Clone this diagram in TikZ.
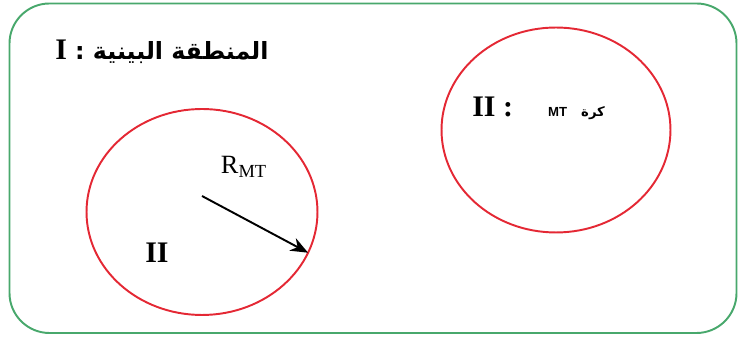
\documentclass[tikz,border=0pt]{standalone}
\usepackage{fontspec}
\setmainfont{Liberation Serif}
\setsansfont{Liberation Sans}
\newfontfamily\arabicfont[Script=Arabic]{DejaVu Sans}
\TeXXeTstate=1
\usetikzlibrary{positioning, arrows.meta, shapes.geometric}
\definecolor{boxgreen}{RGB}{72,168,108}
\definecolor{zonered}{RGB}{228,40,52}

\begin{document}
\begin{tikzpicture}[x=0.02cm, y=-0.02cm, every node/.style={inner sep=0pt}]
  \tikzset{
    frame/.style={draw=boxgreen, line width=1.1pt, rounded corners=0.8cm},
    zone/.style={ellipse, draw=zonered, line width=1.1pt, inner sep=0pt, outer sep=0pt},
    radius/.style={draw=black, line width=1.1pt, -{Stealth[length=10pt, width=8pt]}},
    roman/.style={font=\fontsize{17}{19}\selectfont\bfseries},
  }
  \useasboundingbox (0,0) rectangle (741,340);
  %% outer region I
  \draw[frame] (9.5,3.5) rectangle (736.5,333);
  \node[anchor=west, font=\fontsize{13.5}{16}\selectfont\bfseries] (zoneI) at (55,52)
    {\arabicfont\beginR المنطقة البينية :\ {\rmfamily\fontsize{17}{19}\selectfont I}\endR};
  %% left sphere with radius
  \node[zone, minimum width=4.62cm, minimum height=4.12cm] (leftzone) at (202,212) {};
  \coordinate (rbase) at (202,196);
  \draw[radius] (rbase) -- (leftzone.-21);
  \node[font=\fontsize{15}{17}\selectfont] (rlabel) at (244,167) {R\textsubscript{MT}};
  \node[roman] (leftII) at (157,253) {II};
  %% right sphere
  \node[zone, minimum width=4.58cm, minimum height=4.1cm] (rightzone) at (556,130) {};
  \node[anchor=west] (rightII) at (472,108)
    {\beginR{\arabicfont\bfseries\fontsize{7.5}{9}\selectfont كرة}\hspace{8pt}{\sffamily\bfseries\fontsize{7.5}{9}\selectfont\beginL MT\endL}\hspace{20pt}{\bfseries\fontsize{17}{19}\selectfont : II}\endR};
\end{tikzpicture}
\end{document}
